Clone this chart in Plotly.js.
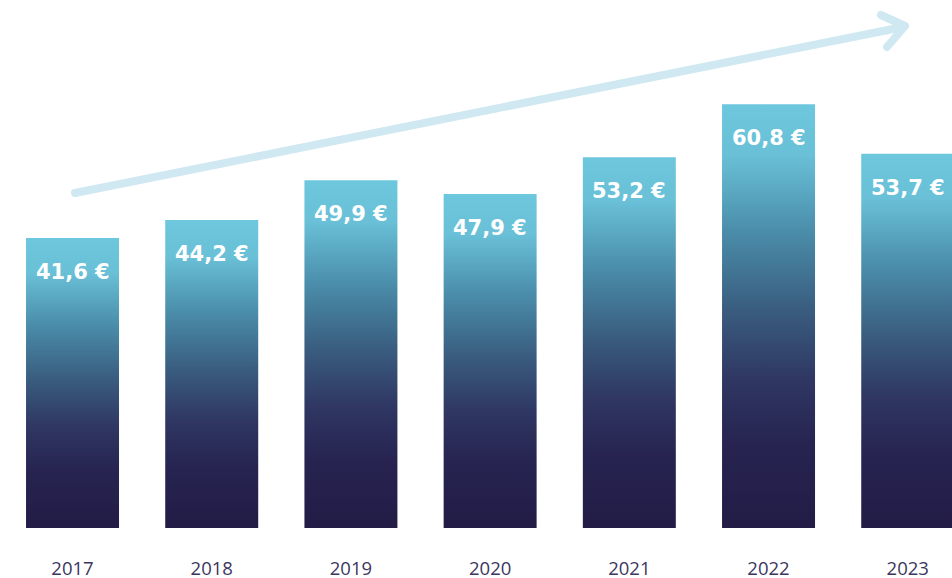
<!DOCTYPE html>
<html>
<head>
<meta charset="utf-8">
<script src="https://cdn.plot.ly/plotly-3.0.1.min.js"></script>
<style>
  html, body { margin: 0; padding: 0; background: #ffffff; }
  #chart { width: 952px; height: 578px; }
</style>
</head>
<body>
<div id="chart"></div>
<script>
// Values
const years = ['2017', '2018', '2019', '2020', '2021', '2022', '2023'];
const values = [41.6, 44.2, 49.9, 47.9, 53.2, 60.8, 53.7];
const valueLabels = ['41,6 €', '44,2 €', '49,9 €', '47,9 €', '53,2 €', '60,8 €', '53,7 €'];

const W = 952, H = 578, plotBottom = 528;

// pixel -> paper helpers for the decorative arrow
const px = (x) => x / W;
const py = (y) => (plotBottom - y) / plotBottom;

const bars = {
  x: years,
  y: values,
  type: 'bar',
  width: 0.668,
  marker: { color: '#3a5e80', line: { width: 0 } },
  hoverinfo: 'skip',
};

// value labels sit inside the top of each bar
// (x given as category index: numeric-looking names would be read as indices)
const labels = years.map((yr, i) => ({
  x: i,
  y: values[i],
  xref: 'x',
  yref: 'y',
  text: '<b>' + valueLabels[i] + '</b>',
  showarrow: false,
  yshift: -34,
  font: { family: 'DejaVu Sans', size: 21, color: '#ffffff' },
}));

const arrowPath =
  'M' + px(75) + ',' + py(193) + ' L' + px(903) + ',' + py(27) +
  ' M' + px(881) + ',' + py(15) + ' L' + px(905) + ',' + py(26) + ' L' + px(887) + ',' + py(47);

const layout = {
  width: W,
  height: H,
  margin: { l: 0, r: 0, t: 0, b: H - plotBottom },
  paper_bgcolor: '#ffffff',
  plot_bgcolor: '#ffffff',
  showlegend: false,
  hovermode: false,
  xaxis: {
    type: 'category',
    range: [-0.521, 6.318],
    showgrid: false,
    zeroline: false,
    showline: false,
    ticks: '',
    ticklabelstandoff: 27,
    tickfont: { family: 'Open Sans', size: 18.5, color: '#3b3760' },
  },
  yaxis: {
    range: [0, 75.75],
    showgrid: false,
    zeroline: false,
    showline: false,
    showticklabels: false,
    ticks: '',
  },
  shapes: [{
    type: 'path',
    xref: 'paper',
    yref: 'paper',
    path: arrowPath,
    line: { color: '#cfe8f1', width: 8 },
    layer: 'above',
  }],
  annotations: labels,
};

Plotly.newPlot('chart', [bars], layout, { displayModeBar: false }).then((gd) => {
  // vertical gradient on each bar
  const svgNS = 'http://www.w3.org/2000/svg';
  const defs = gd.querySelector('svg.main-svg defs');
  const grad = document.createElementNS(svgNS, 'linearGradient');
  grad.setAttribute('id', 'barGrad');
  grad.setAttribute('x1', '0'); grad.setAttribute('y1', '0');
  grad.setAttribute('x2', '0'); grad.setAttribute('y2', '1');
  [
    [0, '#6dc7dd'], [0.12, '#69c0d7'], [0.3, '#4a8daa'], [0.48, '#3a5e80'],
    [0.65, '#2f3762'], [0.8, '#272451'], [1, '#221c46'],
  ].forEach(([o, c]) => {
    const s = document.createElementNS(svgNS, 'stop');
    s.setAttribute('offset', o);
    s.setAttribute('stop-color', c);
    grad.appendChild(s);
  });
  defs.appendChild(grad);
  gd.querySelectorAll('.bars .point path').forEach((p) => { p.style.fill = 'url(#barGrad)'; });
  gd.querySelectorAll('.shapelayer path').forEach((p) => {
    p.style.strokeLinecap = 'round';
    p.style.strokeLinejoin = 'round';
  });
});
</script>
</body>
</html>
